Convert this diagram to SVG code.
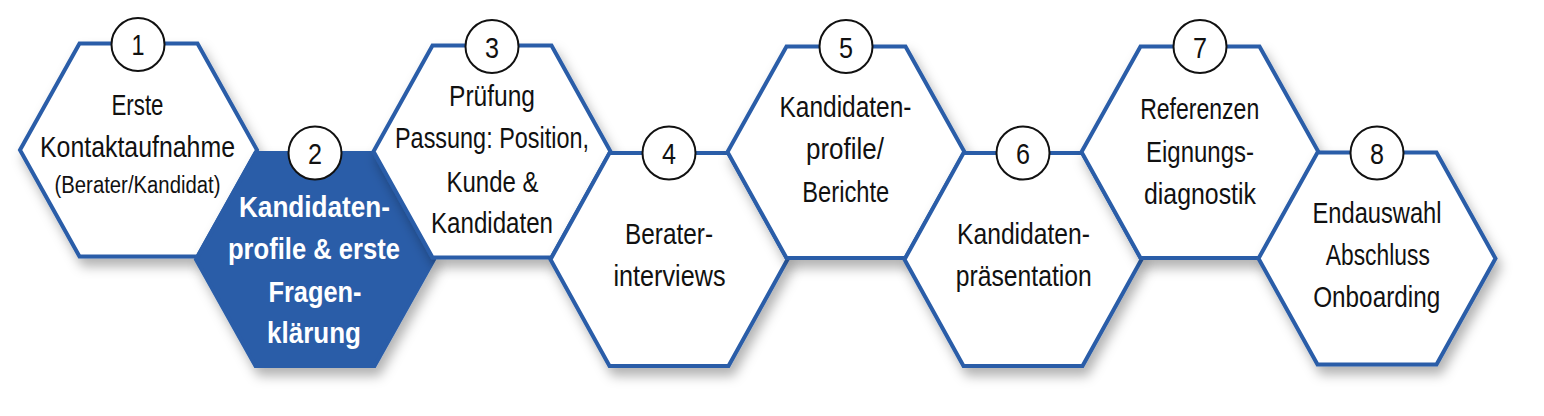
<svg xmlns="http://www.w3.org/2000/svg" width="1544" height="416" viewBox="0 0 1544 416">
<defs>
<filter id="sh" x="-20%" y="-20%" width="150%" height="150%">
<feDropShadow dx="4" dy="8" stdDeviation="6" flood-color="#000" flood-opacity="0.3"/>
</filter>
<style>
.hex{fill:#fff;stroke:#2A5DA8;stroke-width:4;stroke-linejoin:miter}
.hexf{fill:#2A5DA8;stroke:#2A5DA8;stroke-width:4}
.num{fill:#fff;stroke:#111;stroke-width:2}
text{font-family:"Liberation Sans",Arial,sans-serif;text-anchor:middle;fill:#111}
.t{font-size:30px}
.s{font-size:23.5px}
.b{font-size:29.5px;font-weight:bold;fill:#fff}
.n{font-size:30px}
</style>
</defs>
<g id="connectors"></g>
<g id="node1">
<polygon class="hex" filter="url(#sh)" points="20,150 79.5,43.5 197.5,43.5 257,150 197.5,256.5 79.5,256.5"/>
<circle class="num" cx="138" cy="44.5" r="26.5"/>
<text class="n" x="138" y="55" textLength="13" lengthAdjust="spacingAndGlyphs">1</text>
<text class="t" x="137.5" y="115" textLength="52" lengthAdjust="spacingAndGlyphs">Erste</text>
<text class="t" x="137.5" y="157" textLength="195" lengthAdjust="spacingAndGlyphs">Kontaktaufnahme</text>
<text class="s" x="137.5" y="192.5" textLength="166" lengthAdjust="spacingAndGlyphs">(Berater/Kandidat)</text>
</g>
<g id="node2">
<polygon class="hexf" filter="url(#sh)" points="196,259.5 255.5,153 374.5,153 434,259.5 374.5,366 255.5,366"/>
<circle class="num" cx="315" cy="153" r="26.5"/>
<text class="n" x="315" y="164" textLength="14" lengthAdjust="spacingAndGlyphs">2</text>
<text class="b" x="314.5" y="216.7" textLength="151" lengthAdjust="spacingAndGlyphs">Kandidaten-</text>
<text class="b" x="314" y="259" textLength="172" lengthAdjust="spacingAndGlyphs">profile &amp; erste</text>
<text class="b" x="315" y="302" textLength="93" lengthAdjust="spacingAndGlyphs">Fragen-</text>
<text class="b" x="314" y="343" textLength="94" lengthAdjust="spacingAndGlyphs">klärung</text>
</g>
<g id="node3">
<polygon class="hex" filter="url(#sh)" points="373.5,151.5 432.5,45.5 551.5,45.5 610.5,151.5 551.5,257.5 432.5,257.5"/>
<circle class="num" cx="492" cy="46.5" r="26.5"/>
<text class="n" x="492" y="57.5" textLength="14" lengthAdjust="spacingAndGlyphs">3</text>
<text class="t" x="492" y="106" textLength="86" lengthAdjust="spacingAndGlyphs">Prüfung</text>
<text class="t" x="492" y="148.3" textLength="194" lengthAdjust="spacingAndGlyphs">Passung: Position,</text>
<text class="t" x="492.5" y="191.7" textLength="92" lengthAdjust="spacingAndGlyphs">Kunde &amp;</text>
<text class="t" x="492" y="233.3" textLength="122" lengthAdjust="spacingAndGlyphs">Kandidaten</text>
</g>
<g id="node4">
<polygon class="hex" filter="url(#sh)" points="550.5,259.5 609.5,153 728.5,153 787.5,259.5 728.5,366 609.5,366"/>
<circle class="num" cx="669" cy="153" r="26.5"/>
<text class="n" x="669" y="164" textLength="14" lengthAdjust="spacingAndGlyphs">4</text>
<text class="t" x="669" y="244.3" textLength="88" lengthAdjust="spacingAndGlyphs">Berater-</text>
<text class="t" x="669.5" y="286" textLength="112" lengthAdjust="spacingAndGlyphs">interviews</text>
</g>
<g id="node5">
<polygon class="hex" filter="url(#sh)" points="727.5,152 786.5,46.5 905.5,46.5 964.5,152 905.5,258 786.5,258"/>
<circle class="num" cx="846" cy="46.5" r="26.5"/>
<text class="n" x="846" y="57.5" textLength="14" lengthAdjust="spacingAndGlyphs">5</text>
<text class="t" x="845.5" y="117.3" textLength="132" lengthAdjust="spacingAndGlyphs">Kandidaten-</text>
<text class="t" x="845" y="158.7" textLength="78" lengthAdjust="spacingAndGlyphs">profile/</text>
<text class="t" x="845.8" y="201.7" textLength="87" lengthAdjust="spacingAndGlyphs">Berichte</text>
</g>
<g id="node6">
<polygon class="hex" filter="url(#sh)" points="904.5,259.5 963.5,153 1082.5,153 1141.5,259.5 1082.5,366 963.5,366"/>
<circle class="num" cx="1023" cy="153" r="26.5"/>
<text class="n" x="1023" y="164" textLength="14" lengthAdjust="spacingAndGlyphs">6</text>
<text class="t" x="1023.5" y="244.3" textLength="133" lengthAdjust="spacingAndGlyphs">Kandidaten-</text>
<text class="t" x="1023.8" y="286" textLength="136" lengthAdjust="spacingAndGlyphs">präsentation</text>
</g>
<g id="node7">
<polygon class="hex" filter="url(#sh)" points="1081.5,152 1140.5,46.5 1259.5,46.5 1318.5,152 1259.5,258 1140.5,258"/>
<circle class="num" cx="1200" cy="46.5" r="26.5"/>
<text class="n" x="1200" y="57.5" textLength="14" lengthAdjust="spacingAndGlyphs">7</text>
<text class="t" x="1199.7" y="119" textLength="119" lengthAdjust="spacingAndGlyphs">Referenzen</text>
<text class="t" x="1200" y="162.3" textLength="108" lengthAdjust="spacingAndGlyphs">Eignungs-</text>
<text class="t" x="1200" y="204" textLength="112" lengthAdjust="spacingAndGlyphs">diagnostik</text>
</g>
<g id="node8">
<polygon class="hex" filter="url(#sh)" points="1258.5,258.5 1317.5,152.5 1436.5,152.5 1495.5,258.5 1436.5,364.5 1317.5,364.5"/>
<circle class="num" cx="1377" cy="153" r="26.5"/>
<text class="n" x="1377" y="164" textLength="14" lengthAdjust="spacingAndGlyphs">8</text>
<text class="t" x="1377" y="223.3" textLength="129" lengthAdjust="spacingAndGlyphs">Endauswahl</text>
<text class="t" x="1377.8" y="265" textLength="104" lengthAdjust="spacingAndGlyphs">Abschluss</text>
<text class="t" x="1376.7" y="307.3" textLength="127" lengthAdjust="spacingAndGlyphs">Onboarding</text>
</g>
</svg>
